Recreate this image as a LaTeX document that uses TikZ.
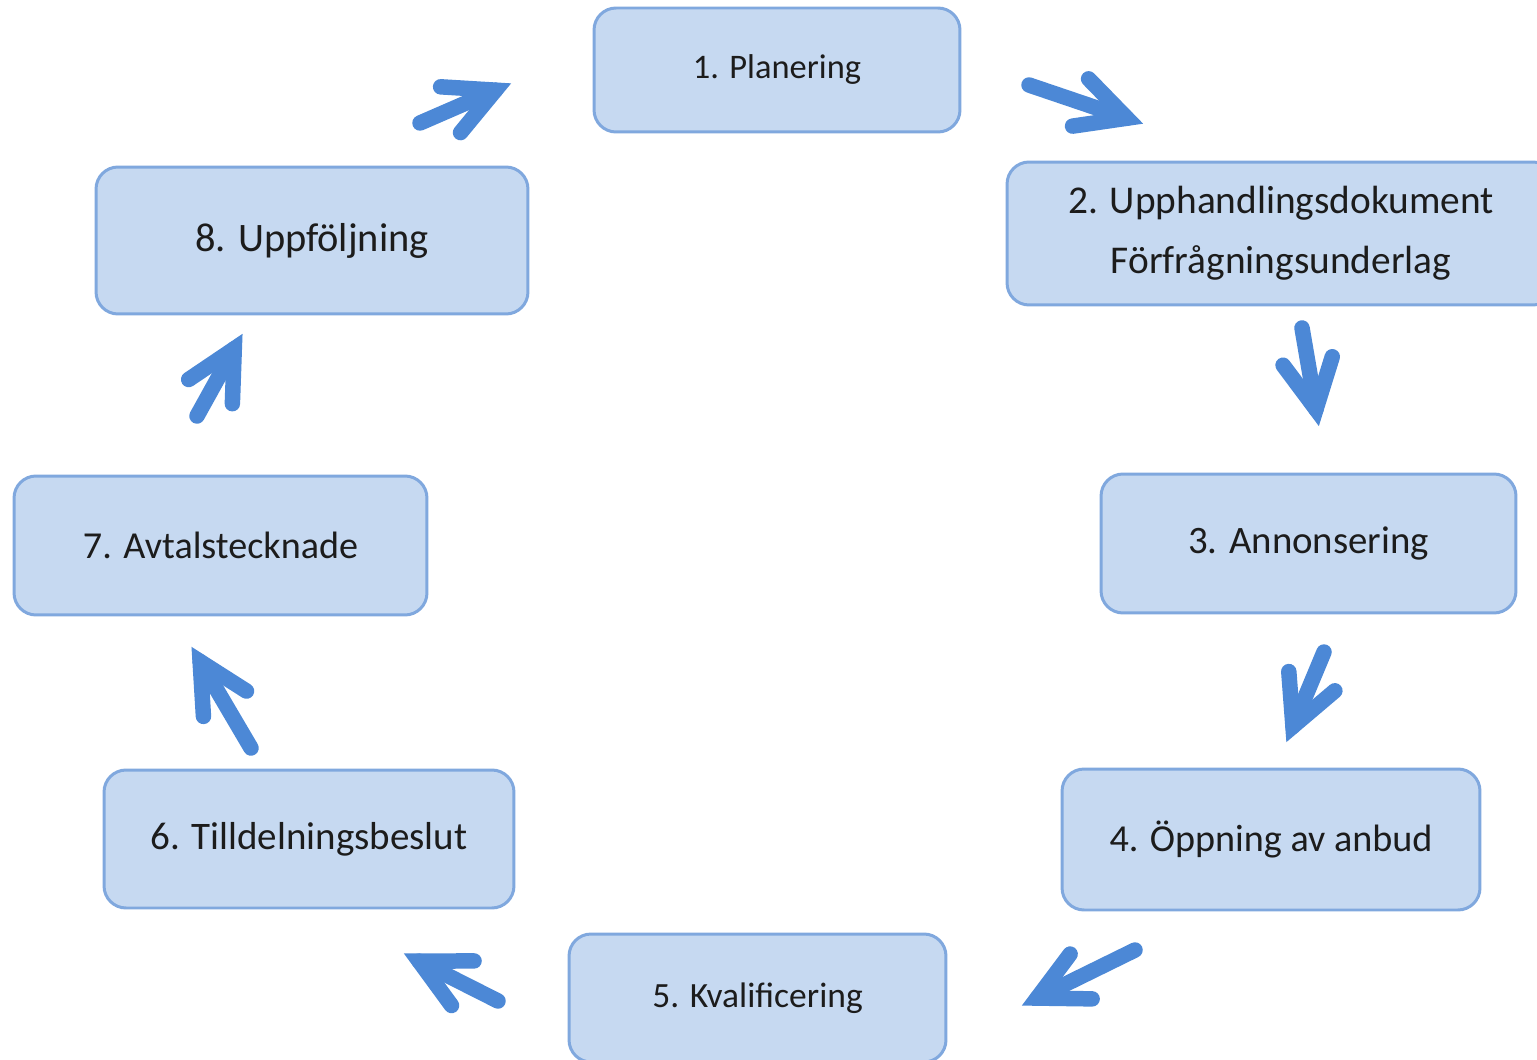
\documentclass[tikz,border=0pt]{standalone}
\usepackage{fontspec}
\setmainfont{Carlito}
\usetikzlibrary{calc}
\definecolor{boxfill}{RGB}{198,217,241}
\definecolor{boxborder}{RGB}{128,168,222}
\definecolor{arrowblue}{RGB}{76,136,214}
\definecolor{textcol}{RGB}{28,28,28}
\tikzset{
  box/.style={draw=boxborder, fill=boxfill, line width=1.7pt, rounded corners=0.44cm,
    text=textcol, inner sep=0pt, align=center},
  arrowline/.style={draw=arrowblue, line width=0.31cm, line cap=round},
}
\newcommand\flowarrow[2]{%
  \coordinate (v#2) at ($(#2)!0.36cm!(#1)$);
  \draw[arrowline] (#1) -- (v#2);
  \draw[arrowline, line join=miter] ($(v#2)!1.1cm!27:(#1)$) -- (v#2) -- ($(v#2)!1.1cm!-27:(#1)$);
}
\begin{document}
\begin{tikzpicture}[x=0.02cm, y=-0.02cm]
\useasboundingbox (0,0) rectangle (1537,1060);
\clip (0,0) rectangle (1537,1060);
\fill[white] (0,0) rectangle (1537,1060);

\node[box, minimum width=7.32cm, minimum height=2.48cm, font=\fontsize{19.6}{24}\selectfont] (b1) at (777,70)
  {1. Planering};
\node[box, minimum width=10.96cm, minimum height=2.86cm, font=\fontsize{22.4}{34}\selectfont] (b2) at (1281,233.5)
  {2. Upphandlingsdokument\\ Förfrågningsunderlag};
\node[box, minimum width=8.30cm, minimum height=2.78cm, font=\fontsize{22.1}{26}\selectfont] (b3) at (1308.5,543.5)
  {3. Annonsering};
\node[box, minimum width=8.36cm, minimum height=2.82cm, font=\fontsize{21.7}{26}\selectfont] (b4) at (1271,839.5)
  {4. Öppning av anbud};
\node[box, minimum width=7.54cm, minimum height=2.56cm, font=\fontsize{20.2}{24}\selectfont] (b5) at (757.5,998)
  {\raisebox{0.06cm}{5. Kvalificering}};
\node[box, minimum width=8.20cm, minimum height=2.76cm, font=\fontsize{22.2}{26}\selectfont] (b6) at (309,839)
  {6. Tilldelningsbeslut};
\node[box, minimum width=8.26cm, minimum height=2.78cm, font=\fontsize{21.7}{26}\selectfont] (b7) at (220.5,545.5)
  {7. Avtalstecknade};
\node[box, minimum width=8.64cm, minimum height=2.94cm, font=\fontsize{23}{28}\selectfont] (b8) at (312,240.5)
  {8. Uppföljning};

% arrow tails (t) and tips (p)
\coordinate (t81) at (420,123);  \coordinate (p81) at (512,83);
\coordinate (t12) at (1029,85);  \coordinate (p12) at (1144,124);
\coordinate (t23) at (1302,328); \coordinate (p23) at (1319,427);
\coordinate (t34) at (1324,652); \coordinate (p34) at (1286,743);
\coordinate (t45) at (1135,950); \coordinate (p45) at (1021,1006);
\coordinate (t56) at (498,1001); \coordinate (p56) at (403,953);
\coordinate (t67) at (251,748);  \coordinate (p67) at (191,646);
\coordinate (t78) at (197,416);  \coordinate (p78) at (243,333);

\flowarrow{t81}{p81}
\flowarrow{t12}{p12}
\flowarrow{t23}{p23}
\flowarrow{t34}{p34}
\flowarrow{t45}{p45}
\flowarrow{t56}{p56}
\flowarrow{t67}{p67}
\flowarrow{t78}{p78}
\end{tikzpicture}
\end{document}
